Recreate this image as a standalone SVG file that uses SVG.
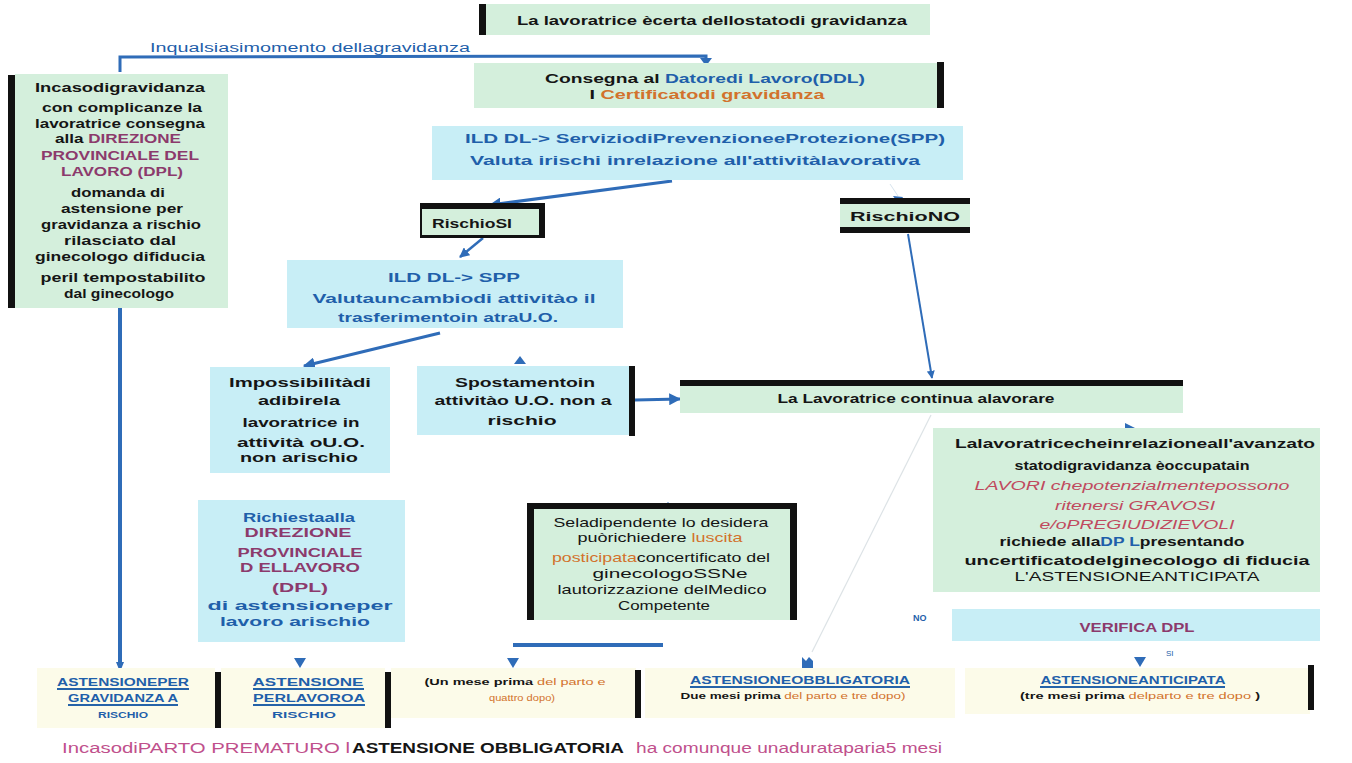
<svg xmlns="http://www.w3.org/2000/svg" width="1352" height="763" viewBox="0 0 1352 763">
<defs>
<style>
.g{fill:#d4efdc}
.c{fill:#c8eef6}
.y{fill:#fcfbe9}
.k{fill:#111}
text{font-family:"Liberation Sans",Arial,sans-serif;font-weight:bold;font-size:13px;fill:#151515}
.m{text-anchor:middle}
.bl{fill:#1f5faa}
.pu{fill:#8c3a6c}
.or{fill:#d2722c}
.it{font-style:italic;fill:#c04a5e;font-weight:normal}
.sm{font-size:10px}
.conn{stroke:#2f6cb8;fill:none}
.ul{stroke:#2563a8;stroke-width:2}
.mg{fill:#c0508c;font-weight:normal;font-size:14px}
</style>
<marker id="ah" viewBox="0 0 10 10" refX="9" refY="5" markerWidth="4" markerHeight="4" orient="auto"><path d="M0,0 L10,5 L0,10 z" fill="#2f6cb8"/></marker>
</defs>
<rect width="1352" height="763" fill="#ffffff"/>

<g id="connectors">
<polyline class="conn" stroke-width="3" points="120,72 120,57 706,56 706,60"/>
<polygon points="700,58 712,58 706,66" fill="#2f6cb8"/>
<line class="conn" stroke-width="3" x1="672" y1="181" x2="490" y2="205" marker-end="url(#ah)"/>
<line stroke="#d8e4ee" stroke-width="1" x1="890" y1="184" x2="898" y2="196"/>
<polygon points="893,196 903,197 899,204" fill="#2f6cb8"/>
<line class="conn" stroke-width="2.5" x1="483" y1="238" x2="460" y2="257" marker-end="url(#ah)"/>
<line class="conn" stroke-width="3" x1="440" y1="333" x2="304" y2="366" marker-end="url(#ah)"/>
<polygon points="514,364 526,364 520,356" fill="#2f6cb8"/>
<line class="conn" stroke-width="3" x1="635" y1="400" x2="680" y2="399" marker-end="url(#ah)"/>
<line class="conn" stroke-width="2" x1="908" y1="234" x2="932" y2="378" marker-end="url(#ah)"/>
<line stroke="#dde3e6" stroke-width="1.2" x1="931" y1="415" x2="812" y2="652"/>
<polygon points="1125,423 1125,433 1135,428" fill="#2f6cb8"/>
<line class="conn" stroke-width="4" x1="120" y1="308" x2="120" y2="664"/>
<polygon points="116,662 124,662 120,672" fill="#2f6cb8"/>
<line class="conn" stroke-width="4" x1="513" y1="645" x2="663" y2="645"/>
<polygon points="294,658 306,658 300,668" fill="#2f6cb8"/>
<polygon points="507,658 519,658 513,668" fill="#2f6cb8"/>
<polygon points="802,657 806,661 809,657 813,661 813,668 802,668" fill="#2f6cb8"/>
<polygon points="1134,657 1146,657 1140,667" fill="#2f6cb8"/>
<polygon points="662,509 674,509 668,502" fill="#2f6cb8"/>
</g>

<g id="n-top">
<rect class="g" x="486" y="4" width="444" height="31"/>
<rect class="k" x="479" y="4" width="7" height="31"/>
<text class="m" x="712" y="25" textLength="390" lengthAdjust="spacingAndGlyphs">La lavoratrice ècerta dellostatodi gravidanza</text>
</g>

<g id="lbl-momento">
<text class="bl" x="150" y="52" style="font-weight:normal;font-size:12px" textLength="320" lengthAdjust="spacingAndGlyphs">Inqualsiasimomento dellagravidanza</text>
</g>

<g id="n-consegna">
<rect class="g" x="474" y="63" width="464" height="45"/>
<rect class="k" x="937" y="62" width="7" height="46"/>
<text class="m" x="705" y="83" textLength="320" lengthAdjust="spacingAndGlyphs">Consegna al <tspan class="bl">Datoredi Lavoro(DDL)</tspan></text>
<text class="m" x="707" y="99" textLength="235" lengthAdjust="spacingAndGlyphs">I <tspan class="or">Certificatodi gravidanza</tspan></text>
</g>

<g id="n-spp">
<rect class="c" x="432" y="126" width="531" height="54"/>
<text class="m bl" x="705" y="143" textLength="480" lengthAdjust="spacingAndGlyphs">ILD DL-&gt; ServiziodiPrevenzioneeProtezione(SPP)</text>
<text class="m bl" x="695" y="165" textLength="450" lengthAdjust="spacingAndGlyphs">Valuta irischi inrelazione all'attivitàlavorativa</text>
</g>

<g id="n-rischiosi">
<rect class="g" x="420" y="203" width="125" height="35"/>
<rect class="k" x="420" y="203" width="125" height="6"/>
<rect class="k" x="539" y="203" width="6" height="35"/>
<rect class="k" x="420" y="203" width="2" height="35"/>
<rect class="k" x="420" y="235" width="125" height="3"/>
<text x="432" y="228" textLength="80" lengthAdjust="spacingAndGlyphs">RischioSI</text>
</g>

<g id="n-rischiono">
<rect class="g" x="840" y="198" width="130" height="35"/>
<rect class="k" x="840" y="198" width="130" height="6"/>
<rect class="k" x="840" y="227" width="130" height="6"/>
<text class="m" x="905" y="221" textLength="110" lengthAdjust="spacingAndGlyphs">RischioNO</text>
</g>

<g id="n-spp2">
<rect class="c" x="287" y="260" width="336" height="68"/>
<text class="m bl" x="454" y="282" textLength="132" lengthAdjust="spacingAndGlyphs">ILD DL-&gt; SPP</text>
<text class="m bl" x="454" y="303" textLength="283" lengthAdjust="spacingAndGlyphs">Valutauncambiodi attivitào il</text>
<text class="m bl" x="448" y="322" textLength="220" lengthAdjust="spacingAndGlyphs">trasferimentoin atraU.O.</text>
</g>

<g id="n-impossibilita">
<rect class="c" x="210" y="367" width="180" height="106"/>
<text class="m" x="300" y="387" textLength="142" lengthAdjust="spacingAndGlyphs">Impossibilitàdi</text>
<text class="m" x="299" y="405" textLength="82" lengthAdjust="spacingAndGlyphs">adibirela</text>
<text class="m" x="301" y="427" textLength="117" lengthAdjust="spacingAndGlyphs">lavoratrice in</text>
<text class="m" x="301" y="447" textLength="128" lengthAdjust="spacingAndGlyphs">attività oU.O.</text>
<text class="m" x="299" y="462" textLength="118" lengthAdjust="spacingAndGlyphs">non arischio</text>
</g>

<g id="n-spostamento">
<rect class="c" x="417" y="366" width="213" height="69"/>
<rect class="k" x="629" y="366" width="6" height="70"/>
<text class="m" x="525" y="387" textLength="140" lengthAdjust="spacingAndGlyphs">Spostamentoin</text>
<text class="m" x="523" y="405" textLength="177" lengthAdjust="spacingAndGlyphs">attivitào U.O. non a</text>
<text class="m" x="522" y="425" textLength="69" lengthAdjust="spacingAndGlyphs">rischio</text>
</g>

<g id="n-continua">
<rect class="g" x="680" y="380" width="503" height="33"/>
<rect class="k" x="680" y="380" width="503" height="6"/>
<text class="m" x="916" y="403" textLength="277" lengthAdjust="spacingAndGlyphs">La Lavoratrice continua alavorare</text>
</g>

<g id="n-gravosi">
<rect class="g" x="933" y="428" width="387" height="164"/>
<text class="m" x="1135" y="448" textLength="360" lengthAdjust="spacingAndGlyphs">Lalavoratricecheinrelazioneall'avanzato</text>
<text class="m" x="1132" y="470" textLength="235" lengthAdjust="spacingAndGlyphs">statodigravidanza èoccupatain</text>
<text class="m it" x="1132" y="490" textLength="315" lengthAdjust="spacingAndGlyphs">LAVORI chepotenzialmentepossono</text>
<text class="m it" x="1135" y="510" textLength="160" lengthAdjust="spacingAndGlyphs">ritenersi GRAVOSI</text>
<text class="m it" x="1137" y="529" textLength="195" lengthAdjust="spacingAndGlyphs">e/oPREGIUDIZIEVOLI</text>
<text class="m" x="1122" y="546" textLength="245" lengthAdjust="spacingAndGlyphs">richiede alla<tspan class="bl">DP L</tspan>presentando</text>
<text class="m" x="1137" y="565" textLength="345" lengthAdjust="spacingAndGlyphs">uncertificatodelginecologo di fiducia</text>
<text class="m" x="1137" y="581" style="font-weight:normal" textLength="245" lengthAdjust="spacingAndGlyphs">L'ASTENSIONEANTICIPATA</text>
</g>

<g id="lbl-no"><text class="bl" x="913" y="621" style="font-size:9px">NO</text></g>

<g id="n-verifica">
<rect class="c" x="952" y="609" width="368" height="32"/>
<text class="m pu" x="1137" y="632" textLength="115" lengthAdjust="spacingAndGlyphs">VERIFICA DPL</text>
</g>

<g id="lbl-si"><text class="bl" x="1166" y="656" style="font-size:8px;font-weight:normal">SI</text></g>

<g id="n-richiesta">
<rect class="c" x="198" y="500" width="207" height="142"/>
<text class="m bl" x="299" y="522" textLength="112" lengthAdjust="spacingAndGlyphs">Richiestaalla</text>
<text class="m pu" x="298" y="537" textLength="107" lengthAdjust="spacingAndGlyphs">DIREZIONE</text>
<text class="m pu" x="300" y="557" textLength="125" lengthAdjust="spacingAndGlyphs">PROVINCIALE</text>
<text class="m pu" x="300" y="572" textLength="120" lengthAdjust="spacingAndGlyphs">D ELLAVORO</text>
<text class="m pu" x="300" y="592" textLength="56" lengthAdjust="spacingAndGlyphs">(DPL)</text>
<text class="m bl" x="300" y="610" textLength="185" lengthAdjust="spacingAndGlyphs">di astensioneper</text>
<text class="m bl" x="295" y="626" textLength="150" lengthAdjust="spacingAndGlyphs">lavoro arischio</text>
</g>

<g id="n-posticipata">
<rect class="k" x="527" y="503" width="270" height="117"/>
<rect class="g" x="534" y="509" width="256" height="111"/>
<text class="m" x="661" y="527" style="font-weight:normal" textLength="215" lengthAdjust="spacingAndGlyphs">Seladipendente lo desidera</text>
<text class="m" x="660" y="542" style="font-weight:normal" textLength="165" lengthAdjust="spacingAndGlyphs">puòrichiedere <tspan class="or">luscita</tspan></text>
<text class="m" x="661" y="562" style="font-weight:normal" textLength="218" lengthAdjust="spacingAndGlyphs"><tspan class="or">posticipata</tspan>concertificato del</text>
<text class="m" x="670" y="578" style="font-weight:normal" textLength="155" lengthAdjust="spacingAndGlyphs">ginecologoSSNe</text>
<text class="m" x="662" y="594" style="font-weight:normal" textLength="209" lengthAdjust="spacingAndGlyphs">lautorizzazione delMedico</text>
<text class="m" x="664" y="610" style="font-weight:normal" textLength="92" lengthAdjust="spacingAndGlyphs">Competente</text>
</g>

<g id="n-ast-rischio">
<rect class="y" x="37" y="668" width="178" height="60"/>
<text class="m bl sm" x="123" y="686" textLength="132" lengthAdjust="spacingAndGlyphs">ASTENSIONEPER</text>
<line class="ul" x1="57" y1="689" x2="189" y2="689"/>
<text class="m bl sm" x="123" y="702" textLength="110" lengthAdjust="spacingAndGlyphs">GRAVIDANZA A</text>
<line class="ul" x1="68" y1="705" x2="178" y2="705"/>
<text class="m bl sm" x="123" y="718" style="font-size:9px" textLength="50" lengthAdjust="spacingAndGlyphs">RISCHIO</text>
<rect class="k" x="215" y="672" width="6" height="56"/>
</g>

<g id="n-ast-lavoro">
<rect class="y" x="221" y="668" width="164" height="60"/>
<text class="m bl sm" x="308" y="686" textLength="111" lengthAdjust="spacingAndGlyphs">ASTENSIONE</text>
<line class="ul" x1="253" y1="689" x2="364" y2="689"/>
<text class="m bl sm" x="309" y="702" textLength="112" lengthAdjust="spacingAndGlyphs">PERLAVOROA</text>
<line class="ul" x1="253" y1="705" x2="365" y2="705"/>
<text class="m bl sm" x="304" y="718" style="font-size:9px" textLength="64" lengthAdjust="spacingAndGlyphs">RISCHIO</text>
<rect class="k" x="385" y="672" width="6" height="56"/>
</g>

<g id="n-ast-posticipata">
<rect class="y" x="391" y="668" width="245" height="50"/>
<text class="m" x="515" y="685" style="font-size:9px" textLength="181" lengthAdjust="spacingAndGlyphs">(Un mese prima <tspan class="or" style="font-weight:normal">del parto e</tspan></text>
<text class="m or" x="522" y="701" style="font-size:9px;font-weight:normal" textLength="66" lengthAdjust="spacingAndGlyphs">quattro dopo)</text>
<rect class="k" x="635" y="670" width="6" height="48"/>
</g>

<g id="n-ast-obbligatoria">
<rect class="y" x="645" y="668" width="310" height="50"/>
<text class="m bl sm" x="800" y="684" textLength="220" lengthAdjust="spacingAndGlyphs">ASTENSIONEOBBLIGATORIA</text>
<line class="ul" x1="690" y1="687" x2="910" y2="687"/>
<text class="m" x="793" y="699" style="font-size:9px" textLength="225" lengthAdjust="spacingAndGlyphs">Due mesi prima <tspan class="or" style="font-weight:normal">del parto e tre dopo)</tspan></text>
</g>

<g id="n-ast-anticipata">
<rect class="y" x="965" y="668" width="345" height="46"/>
<text class="m bl sm" x="1133" y="684" textLength="185" lengthAdjust="spacingAndGlyphs">ASTENSIONEANTICIPATA</text>
<line class="ul" x1="1040" y1="687" x2="1225" y2="687"/>
<text class="m" x="1140" y="699" style="font-size:9px" textLength="240" lengthAdjust="spacingAndGlyphs">(tre mesi prima <tspan class="or" style="font-weight:normal">delparto e tre dopo</tspan> )</text>
<rect class="k" x="1308" y="665" width="6" height="45"/>
</g>

<g id="footer">
<text class="mg" x="62" y="753" textLength="288" lengthAdjust="spacingAndGlyphs">IncasodiPARTO PREMATURO l</text>
<text x="352" y="753" style="font-size:14px" textLength="272" lengthAdjust="spacingAndGlyphs">ASTENSIONE OBBLIGATORIA</text>
<text class="mg" x="636" y="753" textLength="306" lengthAdjust="spacingAndGlyphs">ha comunque unadurataparia5 mesi</text>
</g>

<g id="n-complicanze">
<rect class="g" x="15" y="74" width="213" height="234"/>
<rect class="k" x="8" y="75" width="7" height="233"/>
<text class="m" x="120" y="92" textLength="170" lengthAdjust="spacingAndGlyphs">Incasodigravidanza</text>
<text class="m" x="122" y="112" textLength="160" lengthAdjust="spacingAndGlyphs">con complicanze la</text>
<text class="m" x="120" y="128" textLength="170" lengthAdjust="spacingAndGlyphs">lavoratrice consegna</text>
<text class="m" x="118" y="143" textLength="126" lengthAdjust="spacingAndGlyphs">alla <tspan class="pu">DIREZIONE</tspan></text>
<text class="m pu" x="120" y="160" textLength="158" lengthAdjust="spacingAndGlyphs">PROVINCIALE DEL</text>
<text class="m pu" x="122" y="176" textLength="122" lengthAdjust="spacingAndGlyphs">LAVORO (DPL)</text>
<text class="m" x="118" y="197" textLength="94" lengthAdjust="spacingAndGlyphs">domanda di</text>
<text class="m" x="122" y="213" textLength="122" lengthAdjust="spacingAndGlyphs">astensione per</text>
<text class="m" x="121" y="229" textLength="160" lengthAdjust="spacingAndGlyphs">gravidanza a rischio</text>
<text class="m" x="120" y="245" textLength="112" lengthAdjust="spacingAndGlyphs">rilasciato dal</text>
<text class="m" x="120" y="261" textLength="170" lengthAdjust="spacingAndGlyphs">ginecologo difiducia</text>
<text class="m" x="123" y="282" textLength="165" lengthAdjust="spacingAndGlyphs">peril tempostabilito</text>
<text class="m" x="119" y="298" textLength="110" lengthAdjust="spacingAndGlyphs">dal ginecologo</text>
</g>
</svg>
